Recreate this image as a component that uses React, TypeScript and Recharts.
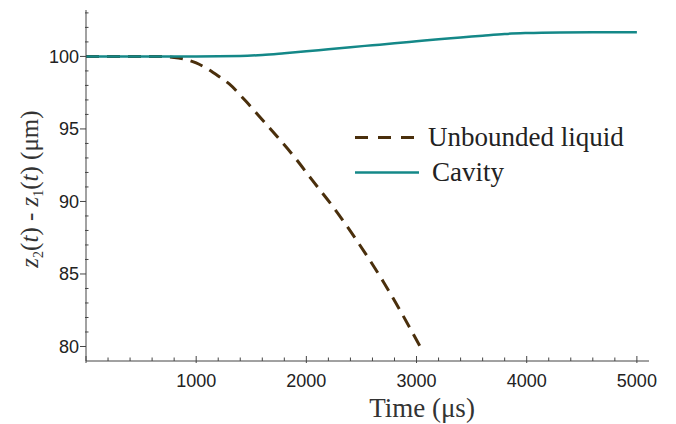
import { LineChart, Line, XAxis, YAxis, Legend } from "recharts";

// time in µs, gap z2(t) - z1(t) in µm
const unboundedTime = [0, 300, 600, 800, 900, 1000, 1100, 1200, 1300, 1450, 1600, 1750, 1900, 2050, 2250, 2400, 2550, 2700, 2850, 3040];
const unboundedGap = [100, 100, 100, 99.93, 99.8, 99.55, 99.15, 98.65, 98.1, 96.92, 95.63, 94.34, 92.99, 91.5, 89.55, 87.95, 86.25, 84.45, 82.5, 79.9];

const cavityTime = [0, 1000, 1400, 1600, 1800, 2000, 2200, 2400, 2600, 2800, 3000, 3200, 3400, 3600, 3800, 4000, 4300, 4600, 5000];
const cavityGap = [100, 100, 100.03, 100.1, 100.22, 100.35, 100.5, 100.64, 100.77, 100.9, 101.04, 101.18, 101.3, 101.43, 101.55, 101.61, 101.65, 101.66, 101.66];

// every 200 µs a tick, labelled every 1000
const xTicks = Array.from({ length: 26 }, (_, i) => i * 200);
// every 1 µm a tick, labelled every 5
const yTicks = Array.from({ length: 24 }, (_, i) => 80 + i);

const X_DOMAIN = [0, 5110];
const Y_DOMAIN = [79, 103.2];

const BROWN = "#4a2f0c";
const TEAL = "#148888";
const AXIS = "#444";
const SERIF = "'Liberation Serif', 'Times New Roman', serif";
const SANS = "'Liberation Sans', Arial, sans-serif";

const unboundedData = unboundedTime.map((t, i) => ({ t, gap: unboundedGap[i] }));
const cavityData = cavityTime.map((t, i) => ({ t, gap: cavityGap[i] }));

const legendItems = [
  { label: "Unbounded liquid", color: BROWN, dash: "13 10", width: 3, textGap: 9 },
  { label: "Cavity", color: TEAL, dash: undefined, width: 2.5, textGap: 13 },
];

function XTick(props: any) {
  const { x, y, payload } = props;
  const v = payload.value;
  const major = v % 1000 === 0;
  return (
    <g>
      <line x1={x} x2={x} y1={y - (major ? 5 : 3.5)} y2={y + (major ? 2 : 0)} stroke={AXIS} strokeWidth={1} />
      {major && v > 0 && (
        <text x={x} y={y + 13} dy="0.71em" textAnchor="middle" fontFamily={SANS} fontSize={18} fill="#222">
          {v}
        </text>
      )}
    </g>
  );
}

function YTick(props: any) {
  const { x, y, payload } = props;
  const v = payload.value;
  const major = v % 5 === 0;
  return (
    <g>
      {major ? (
        <line x1={x - 6} x2={x} y1={y} y2={y} stroke={AXIS} strokeWidth={1} />
      ) : (
        <line x1={x - 1} x2={x + 2.5} y1={y} y2={y} stroke={AXIS} strokeWidth={1} />
      )}
      {major && (
        <text x={x - 7} y={y} dy="0.36em" textAnchor="end" fontFamily={SANS} fontSize={18} fill="#222">
          {v}
        </text>
      )}
    </g>
  );
}

function LegendBox() {
  return (
    <div style={{ fontFamily: SERIF, fontSize: 27, color: "#222" }}>
      {legendItems.map((it) => (
        <div key={it.label} style={{ display: "flex", alignItems: "center", height: 35, lineHeight: "35px" }}>
          <svg width={64} height={35}>
            <line x1={0} x2={64} y1={17.5} y2={17.5} stroke={it.color} strokeWidth={it.width} strokeDasharray={it.dash} />
          </svg>
          <span style={{ marginLeft: it.textGap }}>{it.label}</span>
        </div>
      ))}
    </div>
  );
}

function YTitle() {
  return (
    <text transform="translate(38,189) rotate(-90)" textAnchor="middle" fontFamily={SERIF} fontSize={25} fill="#333">
      <tspan fontStyle="italic">z</tspan>
      <tspan fontSize={14} dy={5}>2</tspan>
      <tspan dy={-5}>(</tspan>
      <tspan fontStyle="italic">t</tspan>
      <tspan>) - </tspan>
      <tspan fontStyle="italic">z</tspan>
      <tspan fontSize={14} dy={5}>1</tspan>
      <tspan dy={-5}>(</tspan>
      <tspan fontStyle="italic">t</tspan>
      <tspan>) (μm)</tspan>
    </text>
  );
}

function XTitle() {
  return (
    <text x={422} y={417} textAnchor="middle" fontFamily={SERIF} fontSize={27} fill="#333">
      Time (μs)
    </text>
  );
}

export default function App() {
  return (
    <div style={{ position: "absolute", left: 0, top: 0, background: "#fff" }}>
      <LineChart width={676} height={424} margin={{ top: 10, right: 27, left: 0, bottom: 0 }}>
        <XAxis
          type="number"
          dataKey="t"
          domain={X_DOMAIN}
          allowDataOverflow
          ticks={xTicks}
          interval={0}
          height={63}
          tickSize={0}
          tickMargin={0}
          tickLine={false}
          stroke={AXIS}
          tick={<XTick />}
          label={<XTitle />}
        />
        <YAxis
          type="number"
          domain={Y_DOMAIN}
          allowDataOverflow
          ticks={yTicks}
          interval={0}
          width={86}
          tickSize={0}
          tickMargin={0}
          tickLine={false}
          stroke={AXIS}
          tick={<YTick />}
          label={<YTitle />}
        />
        <Legend
          layout="vertical"
          align="center"
          verticalAlign="middle"
          content={<LegendBox />}
          wrapperStyle={{ left: 355, top: 120, width: 320 }}
        />
        <Line
          data={unboundedData}
          dataKey="gap"
          name="Unbounded liquid"
          type="monotone"
          stroke={BROWN}
          strokeWidth={3}
          strokeDasharray="13 8"
          dot={false}
          isAnimationActive={false}
        />
        <Line
          data={cavityData}
          dataKey="gap"
          name="Cavity"
          type="monotone"
          stroke={TEAL}
          strokeWidth={2.5}
          dot={false}
          isAnimationActive={false}
        />
      </LineChart>
    </div>
  );
}
